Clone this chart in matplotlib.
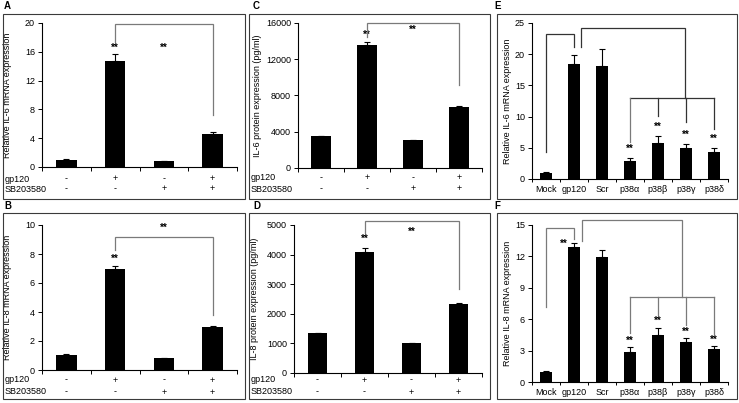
import matplotlib
matplotlib.use('Agg')
import matplotlib.pyplot as plt
from matplotlib.patches import Rectangle
import matplotlib.transforms as mtrans

plt.rcParams['font.family'] = ['Liberation Sans', 'DejaVu Sans']

W, H = 739, 403
fig = plt.figure(figsize=(W / 100, H / 100), dpi=100)

# ---------------- data ----------------
gp120_row = ['-', '+', '-', '+']
sb_row = ['-', '-', '+', '+']

a_vals = [1.0, 14.7, 0.85, 4.6]
a_err = [0.05, 1.0, 0.05, 0.25]
b_vals = [1.05, 6.95, 0.8, 3.0]
b_err = [0.03, 0.25, 0.03, 0.06]
c_vals = [3500, 13550, 3100, 6750]
c_err = [60, 400, 40, 120]
d_vals = [1340, 4090, 1000, 2330]
d_err = [20, 140, 15, 50]

e_cats = ['Mock', 'gp120', 'Scr', 'p38α', 'p38β', 'p38γ', 'p38δ']
e_vals = [1.0, 18.5, 18.1, 2.9, 5.8, 4.9, 4.4]
e_err = [0.05, 1.4, 2.8, 0.5, 1.1, 0.7, 0.6]
f_vals = [1.0, 12.9, 11.9, 2.9, 4.5, 3.85, 3.2]
f_err = [0.05, 0.35, 0.75, 0.4, 0.7, 0.35, 0.2]

FS = 6.5
GRAY = '#7a7a7a'


def box(l, t, r, b):
    fig.add_artist(Rectangle((l / W, 1 - b / H), (r - l) / W, (b - t) / H,
                             transform=fig.transFigure, fill=False,
                             ec='#3a3a3a', lw=0.8))


def make_ax(l, t, r, b):
    ax = fig.add_axes([l / W, 1 - b / H, (r - l) / W, (b - t) / H])
    ax.set_facecolor('none')
    for s in ['top', 'right']:
        ax.spines[s].set_visible(False)
    for s in ['left', 'bottom']:
        ax.spines[s].set_linewidth(0.8)
    ax.tick_params(axis='y', direction='out', length=3, width=0.7,
                   labelsize=FS, pad=2)
    return ax


def bars(ax, vals, err):
    x = list(range(len(vals)))
    ax.bar(x, vals, width=0.42, color='black', zorder=2)
    ax.errorbar(x, vals, yerr=[[0] * len(vals), err], fmt='none',
                ecolor='black', elinewidth=0.8, capsize=2, capthick=0.8,
                zorder=3)
    ax.set_xlim(-0.5, len(vals) - 0.5)


def stars(ax, x, y):
    ax.text(x, y, '**', ha='center', va='center', fontsize=7,
            fontweight='bold', clip_on=False)


def line(ax, xs, ys, color=GRAY):
    ax.plot(xs, ys, color=color, lw=0.9, clip_on=False, zorder=4,
            solid_joinstyle='miter')


def treat_panel(l, t, r, b, vals, err, ymax, step, ylabel, ylab_px,
                row1, row2, name_x, letter, letter_xy, brk, star1, star2):
    ax = make_ax(l, t, r, b)
    bars(ax, vals, err)
    ax.set_ylim(0, ymax)
    ax.set_yticks([i * step for i in range(int(round(ymax / step)) + 1)])
    ax.set_xticks([i - 0.5 for i in range(len(vals) + 1)])
    ax.set_xticklabels([])
    ax.tick_params(axis='x', direction='out', length=3, width=0.7)
    ax.set_ylabel(ylabel, fontsize=FS)
    ax.yaxis.set_label_coords((ylab_px - l) / (r - l), 0.5)
    trans = mtrans.blended_transform_factory(ax.transData, fig.transFigure)
    for i, (g, s) in enumerate(zip(gp120_row, sb_row)):
        ax.text(i, 1 - row1 / H, g, transform=trans, ha='center',
                va='center', fontsize=FS)
        ax.text(i, 1 - row2 / H, s, transform=trans, ha='center',
                va='center', fontsize=FS)
    fig.text(name_x / W, 1 - row1 / H, 'gp120', ha='left', va='center',
             fontsize=FS)
    fig.text(name_x / W, 1 - row2 / H, 'SB203580', ha='left', va='center',
             fontsize=FS)
    fig.text(letter_xy[0] / W, 1 - letter_xy[1] / H, letter,
             fontweight='bold', fontsize=7, ha='left', va='center')
    # bracket
    y_left, y_top, y_right = brk
    line(ax, [1, 1, 3, 3], [y_left, y_top, y_top, y_right])
    stars(ax, 1, star1)
    stars(ax, 2, star2)
    return ax


# ---------------- panels A-D ----------------
box(3, 14, 245, 199)
box(3, 213, 245, 399)
box(249, 14, 490, 199)
box(249, 213, 490, 399)
box(497, 14, 737, 199)
box(497, 213, 737, 399)

treat_panel(42, 23, 237, 167, a_vals, a_err, 20, 4,
            'Relative IL-6 mRNA expression', 12, 179, 189, 5, 'A', (4, 6),
            (17.4, 19.8, 7.2), 16.6, 16.6)
treat_panel(42, 225, 237, 370, b_vals, b_err, 10, 2,
            'Relative IL-8 mRNA expression', 12, 380, 392, 5, 'B', (4, 206),
            (8.3, 9.2, 3.8), 7.7, 9.8)
treat_panel(298, 23, 482, 168, c_vals, c_err, 16000, 4000,
            'IL-6 protein expression (pg/ml)', 262, 178, 189, 251, 'C',
            (253, 6), (14500, 16000, 9200), 14700, 15200)
treat_panel(294, 225, 482, 373, d_vals, d_err, 5000, 1000,
            'IL-8 protein expression (pg/ml)', 259, 380, 392, 251, 'D',
            (253, 206), (4730, 5150, 2850), 4530, 4760)


# ---------------- panels E-F ----------------
def knock_panel(t, b, vals, err, ymax, step, ylabel, letter, letter_y):
    l, r = 532, 728
    ax = make_ax(l, t, r, b)
    bars(ax, vals, err)
    ax.set_ylim(0, ymax)
    ax.set_yticks([i * step for i in range(int(round(ymax / step)) + 1)])
    ax.set_xticks(range(len(vals)))
    ax.set_xticklabels(e_cats, fontsize=FS)
    ax.tick_params(axis='x', which='major', length=0, pad=4)
    ax.set_xticks([i - 0.5 for i in range(len(vals) + 1)], minor=True)
    ax.tick_params(axis='x', which='minor', direction='out', length=2.5,
                   width=0.7)
    ax.set_ylabel(ylabel, fontsize=FS)
    ax.yaxis.set_label_coords((512 - l) / (r - l), 0.5)
    fig.text(494 / W, 1 - letter_y / H, letter, fontweight='bold',
             fontsize=7, ha='left', va='center')
    return ax


ax_e = knock_panel(23, 179, e_vals, e_err, 25, 5,
                   'Relative IL-6 mRNA expression', 'E', 6)
line(ax_e, [0, 0, 1, 1], [4.4, 23.2, 23.2, 21.2], color='#333333')
line(ax_e, [1.25, 1.25, 4.95, 4.95], [21.2, 24.2, 24.2, 13.0],
     color='#333333')
line(ax_e, [3, 6], [13.0, 13.0], color='#333333')
e_drop = [6.0, 10.1, 9.1, 8.0]
for k, i in enumerate(range(3, 7)):
    line(ax_e, [i, i], [13.0, e_drop[k]],
         color=GRAY if i == 3 else '#333333')
    stars(ax_e, i, e_vals[i] + e_err[i] + 1.4)

ax_f = knock_panel(225, 382, f_vals, f_err, 15, 3,
                   'Relative IL-8 mRNA expression', 'F', 206)
line(ax_f, [0, 0, 1, 1], [7.2, 14.7, 14.7, 13.7])
line(ax_f, [1.3, 1.3, 4.85, 4.85], [13.5, 15.5, 15.5, 8.1])
line(ax_f, [3, 6], [8.1, 8.1])
f_drop = [4.7, 6.4, 5.4, 4.5]
for k, i in enumerate(range(3, 7)):
    line(ax_f, [i, i], [8.1, f_drop[k]])
    stars(ax_f, i, f_vals[i] + f_err[i] + 0.6)
stars(ax_f, 0.62, 13.2)

fig.savefig('out.png', dpi=100)
